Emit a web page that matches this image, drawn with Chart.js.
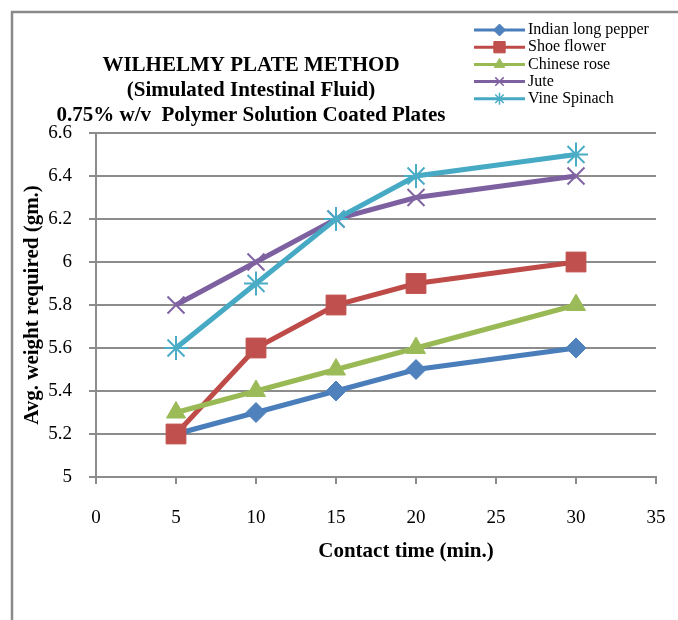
<!DOCTYPE html>
<html>
<head>
<meta charset="utf-8">
<script src="https://cdn.jsdelivr.net/npm/chart.js@4/dist/chart.umd.min.js"></script>
<style>
  html, body { margin: 0; padding: 0; background: #fff; }
  #wrap { width: 678px; height: 620px; }
</style>
</head>
<body>
<div id="wrap"><canvas id="c" width="678" height="620"></canvas></div>
<script>
// Contact time (min.)
const contactTimes = [5, 10, 15, 20, 30];

// Avg. weight required (gm.) per coating polymer
const indianLongPepper = [5.2, 5.3, 5.4, 5.5, 5.6];
const shoeFlower       = [5.2, 5.6, 5.8, 5.9, 6.0];
const chineseRose      = [5.3, 5.4, 5.5, 5.6, 5.8];
const jute             = [5.8, 6.0, 6.2, 6.3, 6.4];
const vineSpinach      = [5.6, 5.9, 6.2, 6.4, 6.5];

const seriesNames = ['Indian long pepper', 'Shoe flower', 'Chinese rose', 'Jute', 'Vine Spinach'];
const seriesValues = [indianLongPepper, shoeFlower, chineseRose, jute, vineSpinach];

const titleLines = ['WILHELMY PLATE METHOD', '(Simulated Intestinal Fluid)', '0.75% w/v  Polymer Solution Coated Plates'];
const xAxisTitle = 'Contact time (min.)';
const yAxisTitle = 'Avg. weight required (gm.)';

const SERIF = "'Liberation Serif', 'Times New Roman', serif";
const GRID = '#8c8c8c';

const styles = [
  { line: '#4a7ebb', fill: '#4f81bd', point: 'rectRot', r: 10, lr: 6 },
  { line: '#be4b48', fill: '#c0504d', point: 'rect',    r: 14, lr: 8 },
  { line: '#98b954', fill: '#9bbb59', point: 'triangle',r: 11, lr: 6 },
  { line: '#7d60a0', fill: '#8064a2', point: 'crossRot',r: 12, lr: 6 },
  { line: '#46aac5', fill: '#4bacc6', point: 'star',    r: 12, lr: 6 }
];

const datasets = seriesValues.map((vals, i) => ({
  label: seriesNames[i],
  data: contactTimes.map((t, k) => ({ x: t, y: vals[k] })),
  borderColor: styles[i].line,
  backgroundColor: styles[i].fill,
  pointBackgroundColor: styles[i].fill,
  pointBorderColor: styles[i].fill,
  pointBorderWidth: (styles[i].point === 'crossRot' || styles[i].point === 'star') ? 2 : 1,
  borderWidth: 5,
  pointStyle: styles[i].point,
  pointRadius: styles[i].r,
  showLine: true,
  tension: 0,
  order: -i
}));

function drawMarker(ctx, style, radius, x, y, fill) {
  const opts = { pointStyle: style, radius: radius, rotation: 0, borderWidth: (style === 'crossRot' || style === 'star') ? 1.5 : 1 };
  ctx.save();
  ctx.fillStyle = fill;
  ctx.strokeStyle = fill;
  ctx.lineWidth = opts.borderWidth;
  if (Chart.helpers && Chart.helpers.drawPoint) {
    Chart.helpers.drawPoint(ctx, opts, x, y);
  }
  ctx.restore();
}

const decorations = {
  id: 'decorations',
  beforeDraw(chart) {
    const ctx = chart.ctx;
    ctx.save();
    ctx.fillStyle = '#ffffff';
    ctx.fillRect(0, 0, chart.width, chart.height);
    // outer frame (left and top edges visible)
    ctx.strokeStyle = '#8a8a8a';
    ctx.lineWidth = 2.5;
    ctx.beginPath();
    ctx.moveTo(12, chart.height + 2);
    ctx.lineTo(12, 12);
    ctx.lineTo(chart.width + 2, 12);
    ctx.stroke();
    ctx.restore();
  },
  afterDraw(chart) {
    const ctx = chart.ctx;
    ctx.save();
    // chart title
    ctx.fillStyle = '#000';
    ctx.font = 'bold 21px ' + SERIF;
    ctx.textAlign = 'center';
    ctx.textBaseline = 'middle';
    const titleY = [66, 91, 116];
    titleLines.forEach((t, i) => ctx.fillText(t, 251, titleY[i]));

    // x axis title
    ctx.font = 'bold 21px ' + SERIF;
    ctx.fillText(xAxisTitle, 406, 552);

    // legend
    ctx.font = '16px ' + SERIF;
    ctx.textAlign = 'left';
    seriesNames.forEach((name, i) => {
      const y = 30 + i * 17.2;
      ctx.strokeStyle = styles[i].line;
      ctx.lineWidth = 3;
      ctx.beginPath();
      ctx.moveTo(474, y);
      ctx.lineTo(525, y);
      ctx.stroke();
      drawMarker(ctx, styles[i].point, styles[i].lr, 499.5, y, styles[i].fill);
      ctx.fillStyle = '#000';
      ctx.fillText(name, 528, y);
    });
    ctx.restore();
  }
};

new Chart(document.getElementById('c'), {
  type: 'scatter',
  data: { datasets },
  options: {
    responsive: false,
    devicePixelRatio: 1,
    animation: false,
    layout: { padding: { left: 16, top: 133, right: 22, bottom: 83 } },
    plugins: {
      legend: { display: false },
      title: { display: false },
      tooltip: { enabled: false }
    },
    scales: {
      x: {
        type: 'linear',
        min: 0,
        max: 35,
        ticks: { stepSize: 5, color: '#000', padding: 23, font: { family: SERIF, size: 19 } },
        grid: { drawOnChartArea: false, drawTicks: true, tickLength: 7, color: GRID, lineWidth: 2 },
        border: { color: GRID, width: 2 },
        afterFit(scale) {
          scale.height = 60;
          scale.paddingLeft = 0;
          scale.paddingRight = 0;
        }
      },
      y: {
        type: 'linear',
        min: 5,
        max: 6.6,
        ticks: { stepSize: 0.2, color: '#000', padding: 17, font: { family: SERIF, size: 19 },
                 callback: (v) => Number(v.toFixed(1)).toString() },
        grid: { drawOnChartArea: true, drawTicks: true, tickLength: 7, color: GRID, lineWidth: 2 },
        border: { color: GRID, width: 2 },
        title: { display: true, text: yAxisTitle, color: '#000', font: { family: SERIF, size: 21, weight: 'bold' }, padding: { top: 4, bottom: 4 } },
        afterFit(scale) { scale.width = 80; }
      }
    }
  },
  plugins: [decorations]
});
</script>
</body>
</html>
